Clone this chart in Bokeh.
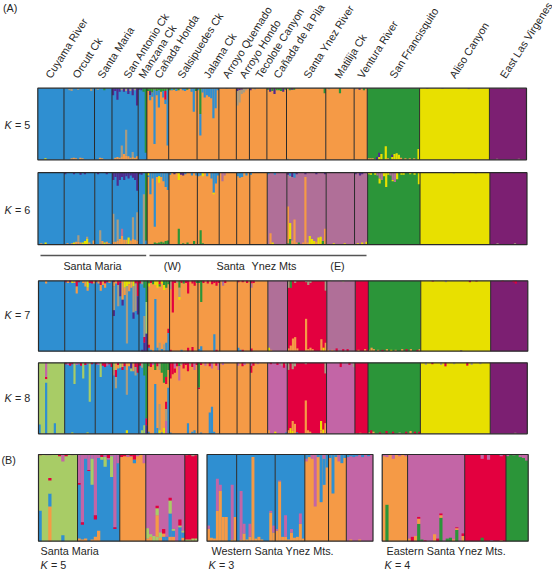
from bokeh.plotting import figure
from bokeh.models import Range1d, ColumnDataSource
from bokeh.core.properties import value
from bokeh.embed import file_html
from bokeh.resources import INLINE

COLORS = {"b": "#2F8FD1", "o": "#F59A46", "g": "#2B9539", "y": "#E8E000", "p": "#7C1F72",
          "m": "#B06F98", "k": "#C365A6", "r": "#E3003F", "l": "#A8CC66", "n": "#4F2B8E",
          "t": "#A89C82"}

POPULATIONS = ["Cuyama River", "Orcutt Ck", "Santa Maria", "San Antonio Ck", "Manzana Ck",
               "Cañada Honda", "Salsipuedes Ck", "Jalama Ck", "Arroyo Quemado", "Arroyo Hondo",
               "Tecolote Canyon", "Cañada de la Pila", "Santa Ynez River", "Matilija Ck",
               "Ventura River", "San Francisquito", "Aliso Canyon", "East Las Virgenes"]
POP_COUNTS = [12, 14, 8, 12, 4, 10, 13, 10, 8, 6, 8, 9, 18, 13, 6, 24, 32, 17]

# ---- K = 5 ----
K5_MAIN = ["b", "b", "b", "b", "b", "o", "o", "o", "o", "o", "o", "o", "o", "o", "o", "g", "y", "p"]
K5_SWAP = {49: "g"}
K5_LOW = {3: [("y", .02)], 15: [("o", .02)], 16: [("o", .03)], 17: [("o", .02)], 19: [("o", .03)], 20: [("o", .02)],
          28: [("o", .03)], 29: [("o", .02)], 35: [("o", .03)], 36: [("o", .04)], 37: [("o", .03)],
          38: [("o", .05), ("t", .2)], 39: [("o", .08)], 40: [("o", .06), ("t", .42)], 41: [("o", .05)],
          42: [("o", .03)], 43: [("o", .04), ("t", .11)], 44: [("o", .03)], 45: [("o", .05)],
          49: [("b", .1)], 114: [("t", .02)], 151: [("o", .02)], 152: [("o", .02)], 153: [("o", .02)],
          155: [("n", .04)], 156: [("y", .04), ("n", .1)], 157: [("y", .08)], 159: [("y", .19)], 160: [("o", .02)],
          162: [("y", .04), ("n", .07)], 163: [("y", .08)], 164: [("y", .09)], 165: [("y", .07)], 166: [("o", .03)],
          168: [("o", .02)], 170: [("o", .02)], 172: [("o", .02)], 174: [("y", .15)], 210: [("t", .015)], 220: [("t", .015)]}
K5_HIGH = {14: [("t", .03)], 15: [("t", .04)], 18: [("t", .02)], 24: [("t", .04)], 27: [("t", .02)], 30: [("g", .03)],
           34: [("n", .1)], 35: [("n", .04)], 36: [("n", .16)], 37: [("n", .05)], 38: [("t", .03)], 39: [("n", .05)],
           40: [("t", .04)], 41: [("n", .08)], 42: [("t", .04)], 43: [("n", .1)], 44: [("t", .03)], 45: [("n", .24)],
           46: [("n", .02)], 47: [("n", .03)], 48: [("g", .05)],
           50: [("g", .04)], 51: [("g", .04), ("n", .1), ("b", .17)], 52: [("g", .06), ("b", .12)], 53: [("g", .02), ("b", .78)],
           54: [("g", .04), ("b", .1)], 55: [("g", .03), ("b", .27)], 56: [("g", .05)], 57: [("g", .04), ("b", .13)],
           58: [("g", .04), ("r", .16), ("b", .22)], 59: [("g", .02), ("b", .8)],
           60: [("g", .03)], 61: [("b", .03)], 62: [("g", .02)], 63: [("b", .04)], 64: [("g", .03)], 66: [("b", .03)],
           67: [("b", .04)], 68: [("g", .02)], 70: [("b", .05)], 71: [("b", .33)], 72: [("g", .04)],
           73: [("b", .03)], 74: [("g", .36), ("b", .66)], 75: [("b", .06)], 76: [("b", .13)], 77: [("b", .1)],
           78: [("b", .12)], 79: [("b", .14)], 80: [("b", .42)], 81: [("b", .28)], 82: [("b", .03)],
           86: [("t", .01)], 91: [("n", .04), ("t", .24)], 92: [("n", .03), ("t", .2)], 93: [("n", .02), ("t", .08)],
           94: [("t", .06)], 95: [("t", .03)], 97: [("n", .03)], 99: [("t", .02)],
           105: [("g", .02)], 106: [("n", .05)], 107: [("g", .04)], 108: [("n", .08)], 109: [("g", .03)], 110: [("g", .03)],
           111: [("g", .04)], 112: [("n", .05)], 113: [("g", .02)], 115: [("g", .03)], 116: [("n", .02)], 117: [("g", .02)],
           131: [("g", .07)], 138: [("g", .07)], 133: [("t", .02)], 145: [("t", .02)], 147: [("n", .02)], 149: [("g", .03)],
           178: [("t", .01)], 185: [("t", .01)], 197: [("t", .015)], 215: [("t", .01)]}

# ---- K = 6 ----
K6_MAIN = ["b", "b", "b", "b", "b", "o", "o", "o", "o", "o", "o", "m", "m", "m", "m", "g", "y", "p"]
K6_SWAP = {49: "g"}
K6_LOW = {1: [("o", .02)], 3: [("y", .03)], 13: [("o", .02)], 15: [("o", .02)], 16: [("y", .03)], 17: [("o", .04)],
          18: [("o", .04), ("t", .13)], 19: [("o", .03)], 20: [("y", .03)], 21: [("y", .05)], 22: [("y", .08), ("t", .11)],
          23: [("o", .03)], 25: [("o", .06)], 28: [("t", .2)], 29: [("o", .05)], 30: [("y", .03)], 31: [("o", .04)], 32: [("o", .02)],
          34: [("o", .04), ("t", .43)], 35: [("o", .04)], 36: [("o", .06), ("t", .35)], 37: [("o", .08)], 38: [("o", .12), ("m", .22)],
          39: [("o", .07)], 40: [("o", .07)], 41: [("y", .1)], 42: [("o", .06)], 43: [("o", .08), ("t", .38)], 44: [("o", .07)],
          45: [("o", .06), ("t", .45)], 48: [("t", .7)], 49: [("b", .06)],
          51: [("g", .01)], 53: [("g", .03)], 54: [("g", .02)], 55: [("g", .03)], 56: [("g", .04)], 57: [("g", .03)], 58: [("g", .05)], 59: [("g", .06)],
          64: [("g", .22)], 66: [("g", .02)], 68: [("g", .03)], 71: [("g", .05)], 74: [("g", .2)], 75: [("g", .02)],
          106: [("o", .16)], 107: [("y", .03)], 114: [("g", .02), ("o", .53)], 115: [("g", .08), ("y", .3)], 116: [("o", .06)],
          117: [("o", .35)], 118: [("o", .03)], 119: [("g", .03)], 121: [("o", .03)], 122: [("o", .94)], 123: [("o", .03)],
          124: [("y", .12)], 125: [("y", .08)], 126: [("y", .05)], 127: [("o", .04)], 128: [("y", .1)], 129: [("y", .11)],
          130: [("g", .05)], 131: [("o", .22)], 135: [("y", .02)], 140: [("y", .02)], 146: [("y", .02)], 148: [("y", .03)],
          150: [("y", .04)], 210: [("t", .02)], 218: [("t", .02)]}
K6_HIGH = {12: [("n", .02)], 16: [("n", .02)], 19: [("n", .03)], 21: [("n", .02)], 27: [("n", .02)], 31: [("n", .02)],
           34: [("n", .1)], 35: [("n", .06)], 36: [("n", .18)], 37: [("n", .1)], 38: [("n", .06)], 39: [("n", .1)], 40: [("n", .05)],
           41: [("n", .08)], 42: [("n", .04)], 43: [("n", .07)], 44: [("n", .1)], 45: [("n", .25)], 46: [("n", .02)], 47: [("n", .03)],
           48: [("b", .18)], 50: [("y", .04), ("b", .06)], 51: [("b", .3)], 52: [("b", .08)], 53: [("b", .75)], 54: [("b", .06)],
           55: [("b", .05), ("y", .14)], 56: [("b", .06)], 57: [("b", .12)], 58: [("b", .2)], 59: [("b", .24)],
           60: [("b", .03)], 62: [("n", .02)], 64: [("y", .1)], 65: [("n", .03)], 66: [("n", .04)], 67: [("b", .02)], 70: [("b", .04)], 72: [("b", .04)],
           73: [("b", .05)], 74: [("b", .04)], 75: [("y", .05)], 77: [("b", .05)], 79: [("b", .08)], 80: [("b", .28), ("y", .3)], 81: [("b", .15)],
           82: [("b", .04)], 84: [("m", .12)], 85: [("m", .04)], 91: [("b", .05)], 92: [("b", .07)], 93: [("b", .06)], 95: [("b", .04)], 97: [("b", .03)],
           105: [("b", .02)], 108: [("b", .03)], 114: [("n", .03)], 115: [("b", .05), ("t", .07)], 116: [("n", .06)], 117: [("b", .07)], 118: [("n", .02)],
           122: [("n", .02)], 127: [("n", .02)], 131: [("n", .02)], 145: [("n", .02)], 147: [("n", .04)], 148: [("n", .02)],
           151: [("y", .02)], 152: [("y", .03)], 154: [("y", .03)], 155: [("m", .04)], 156: [("m", .08), ("y", .15)], 157: [("m", .1)],
           158: [("y", .05)], 159: [("y", .2)], 160: [("y", .03)], 161: [("m", .04)], 162: [("m", .1), ("y", .12)], 163: [("m", .13)], 164: [("y", .09)],
           166: [("y", .03)], 167: [("y", .03)], 170: [("y", .02)], 172: [("y", .03)], 174: [("y", .16)], 200: [("t", .01)], 190: [("t", .01)]}

# ---- K = 7 ----
K7_MAIN = ["b", "b", "b", "b", "b", "o", "o", "o", "o", "o", "o", "m", "r", "m", "r", "g", "y", "p"]
K7_SWAP = {49: "g"}
K7_LOW = {47: [("n", .02)], 48: [("n", .12), ("r", .2), ("t", .5)], 49: [("n", .25), ("l", .7)],
          50: [("b", .05), ("r", .09)], 51: [("b", .02)], 53: [("b", .74)], 54: [("b", .05)], 55: [("t", .12)], 56: [("b", .03)], 57: [("t", .1)],
          58: [("b", .12)], 59: [("b", .26), ("r", .32)], 60: [("r", .02)], 65: [("b", .02)], 68: [("r", .05)], 70: [("r", .06)],
          73: [("b", .03)], 74: [("b", .07)], 80: [("b", .24)], 81: [("r", .02)], 91: [("b", .05)], 92: [("b", .02)], 93: [("r", .02)], 97: [("r", .04)],
          105: [("y", .05)], 106: [("o", .02)], 114: [("o", .04)], 115: [("o", .08)], 116: [("o", .18)], 117: [("o", .2)], 118: [("o", .04)],
          122: [("o", .46)], 123: [("o", .03)], 124: [("o", .05)], 125: [("o", .03)], 129: [("o", .17)], 130: [("y", .05)], 131: [("o", .12)],
          132: [("o", .02)], 134: [("o", .02)], 136: [("r", .04)], 139: [("r", .03)], 141: [("r", .03)], 146: [("o", .02)], 149: [("o", .03)],
          151: [("o", .02)], 152: [("o", .05)], 153: [("o", .03)], 155: [("o", .02)], 157: [("r", .02)], 159: [("o", .03)], 161: [("y", .02)],
          163: [("o", .02)], 166: [("o", .03)], 168: [("r", .03)], 170: [("o", .03)], 173: [("r", .02)], 174: [("o", .03)], 193: [("n", .01)]}
K7_HIGH = {3: [("o", .04)], 12: [("r", .02)], 13: [("o", .03)], 14: [("r", .02)], 15: [("y", .03)], 16: [("o", .03)], 17: [("r", .08), ("o", .18)],
           18: [("r", .02)], 20: [("o", .03)], 21: [("o", .08)], 22: [("y", .1), ("o", .14)], 23: [("r", .03)], 24: [("r", .04)], 25: [("o", .04)],
           26: [("r", .02)], 27: [("o", .04)], 28: [("r", .06), ("o", .14)], 29: [("o", .06)], 30: [("r", .04), ("o", .1)], 31: [("r", .02)], 32: [("o", .03)],
           34: [("r", .02), ("o", .08), ("t", .42), ("n", .5)], 35: [("o", .04)], 36: [("r", .06), ("t", .36)], 37: [("r", .03), ("n", .22)],
           38: [("o", .27), ("n", .35)], 39: [("y", .1), ("o", .2)], 40: [("y", .08), ("t", .89)], 41: [("y", .05), ("o", .15)], 42: [("o", .1)],
           43: [("y", .08), ("t", .45), ("n", .54)], 44: [("r", .04), ("t", .43)], 45: [("r", .22), ("n", .48)], 46: [("r", .04)], 47: [("t", .05)],
           48: [("g", .1)], 50: [("g", .04), ("y", .08)], 51: [("r", .03)], 52: [("g", .05)], 53: [("y", .06)], 54: [("y", .1)], 55: [("r", .05), ("g", .08)],
           56: [("y", .04)], 57: [("g", .06), ("y", .13)], 58: [("g", .1)], 59: [("g", .05)],
           60: [("t", .12)], 61: [("r", .45)], 62: [("r", .03)], 63: [("t", .03)], 64: [("g", .1), ("t", .23), ("y", .27)], 65: [("r", .03)],
           66: [("g", .04)], 67: [("r", .03)], 68: [("r", .18)], 70: [("r", .04)], 71: [("r", .07)], 72: [("g", .03)], 73: [("g", .03)],
           74: [("g", .3)], 75: [("r", .03)], 77: [("r", .04)], 79: [("r", .05)], 80: [("r", .03)], 81: [("r", .07)], 82: [("r", .03)], 84: [("m", .07)],
           85: [("r", .03)], 91: [("r", .02)], 93: [("r", .02)], 95: [("r", .03)], 97: [("r", .04), ("m", .1)], 98: [("r", .03)],
           114: [("t", .1)], 115: [("g", .1)], 116: [("r", .02)], 117: [("t", .03)], 122: [("t", .02)], 123: [("t", .06)], 124: [("t", .03)],
           131: [("t", .14)], 133: [("t", .01)], 139: [("t", .02)], 180: [("r", .01)], 186: [("t", .02)], 197: [("r", .02)], 200: [("r", .01)],
           212: [("r", .01)], 217: [("r", .02)], 218: [("r", .04)]}

# ---- K = 8 ----
K8_MAIN = ["l", "b", "b", "b", "b", "o", "o", "o", "o", "o", "o", "k", "r", "k", "r", "g", "y", "p"]
K8_SWAP = {49: "g"}
K8_LOW = {0: [("b", .13)], 3: [("b", .72)], 7: [("b", .15)], 15: [("y", .02)], 22: [("y", .02)], 40: [("y", .05)],
          47: [("l", .05)], 48: [("l", .12)], 49: [("n", .12), ("r", .22)], 50: [("b", .03)], 51: [("o", .02)], 53: [("b", .7)], 54: [("b", .08)], 55: [("y", .05), ("t", .42)],
          56: [("b", .02)], 57: [("y", .08)], 58: [("k", .18), ("t", .35), ("r", .45)], 59: [("b", .65)], 60: [("b", .02)], 68: [("b", .15)], 70: [("b", .03)],
          71: [("b", .05)], 74: [("b", .02)], 78: [("b", .3)], 79: [("b", .38)], 80: [("b", .03)], 105: [("o", .05)], 108: [("y", .03)], 113: [("b", .02)],
          114: [("o", .05)], 115: [("y", .08)], 116: [("y", .04), ("o", .18)], 117: [("o", .14)], 118: [("b", .02)], 122: [("o", .47)], 123: [("o", .05)],
          124: [("o", .03)], 129: [("o", .05), ("y", .18)], 130: [("y", .06)], 131: [("o", .15)], 145: [("o", .01)], 147: [("o", .015)],
          151: [("o", .02)], 152: [("r", .05)], 153: [("o", .03)], 156: [("r", .02)], 159: [("r", .04)], 162: [("r", .03)], 165: [("t", .02)],
          168: [("r", .03)], 170: [("o", .04)], 172: [("r", .03)], 174: [("r", .03)], 218: [("t", .015)]}
K8_HIGH = {3: [("k", .2), ("r", .23), ("l", .25)], 12: [("r", .02)], 13: [("k", .03)], 14: [("r", .04)], 15: [("r", .02)],
           16: [("l", .3)], 17: [("k", .03)], 18: [("k", .02)], 19: [("r", .04)], 20: [("l", .22)], 21: [("r", .03)], 22: [("k", .02)], 23: [("l", .55)], 24: [("r", .02)],
           26: [("r", .02)], 27: [("k", .03)], 28: [("l", .2)], 29: [("r", .04)], 30: [("r", .06)], 31: [("k", .04)], 32: [("r", .02)], 33: [("r", .06)],
           34: [("l", .1), ("t", .18)], 35: [("o", .1), ("r", .2), ("t", .36)], 36: [("r", .03), ("o", .08)], 37: [("l", .07)], 38: [("o", .06), ("r", .1)],
           39: [("r", .05)], 40: [("o", .1), ("t", .45)], 41: [("o", .05)], 42: [("n", .08), ("l", .12)], 43: [("o", .12)], 44: [("r", .06), ("t", .18)], 45: [("r", .14)],
           46: [("r", .04)], 47: [("t", .07)], 48: [("g", .18)], 50: [("g", .05)], 51: [("r", .06)], 52: [("k", .03)], 53: [("g", .1)], 54: [("r", .05)], 55: [("t", .1)],
           56: [("g", .14)], 57: [("g", .28)], 58: [("g", .2), ("r", .3)], 59: [("g", .1)],
           60: [("r", .22)], 61: [("r", .16)], 62: [("k", .08), ("r", .14)], 63: [("r", .05)], 64: [("g", .05), ("k", .25)], 65: [("t", .03)], 66: [("r", .08)],
           67: [("r", .03)], 68: [("r", .12)], 69: [("t", .04)], 70: [("r", .06)], 71: [("k", .1)], 72: [("r", .03)], 73: [("g", .35), ("r", .37)], 74: [("r", .03)],
           76: [("k", .04)], 78: [("r", .05)], 79: [("k", .08)], 81: [("r", .04)], 82: [("k", .1)], 84: [("k", .03)], 91: [("k", .04)], 93: [("r", .05)], 94: [("k", .03)],
           97: [("k", .04), ("r", .14)], 98: [("r", .04)], 100: [("k", .02)], 106: [("r", .02)], 109: [("r", .03)], 111: [("t", .04)], 112: [("r", .07)], 113: [("t", .03)],
           114: [("t", .1)], 115: [("r", .02)], 116: [("t", .09)], 117: [("t", .05)], 122: [("t", .02)], 131: [("t", .15)], 138: [("r", .06)], 142: [("r", .03)], 144: [("t", .06)],
           177: [("t", .03)], 180: [("r", .02)], 184: [("t", .03)], 186: [("r", .05)], 190: [("t", .02)], 196: [("r", .04)], 198: [("t", .03)], 202: [("t", .02)]}

# ---- Santa Maria, K = 5 ----
B1_COUNTS = [12, 13, 8, 12, 4]
B1_MAIN = ["l", "b", "o", "k", "r"]
B1_SWAP = {}
B1_LOW = {0: [("b", .35)], 3: [("o", .4), ("b", .55), ("l", .7), ("r", .73)], 7: [("b", .07)], 12: [("o", .03)], 13: [("o", .02)], 14: [("o", .03)], 16: [("o", .02)],
          17: [("o", .05)], 18: [("o", .12)], 33: [("o", .03), ("l", .15)], 34: [("o", .05), ("l", .08)], 35: [("l", .06)], 36: [("l", .05), ("o", .3), ("l", .38), ("r", .41)],
          37: [("o", .04), ("l", .1)], 38: [("b", .05), ("o", .09), ("r", .14)], 39: [("b", .05)], 40: [("o", .05), ("b", .32), ("l", .47), ("r", .5)],
          41: [("o", .05), ("b", .12), ("l", .14)], 43: [("b", .16), ("l", .18), ("r", .25)], 44: [("o", .04), ("b", .1), ("l", .12)], 45: [("l", .02)], 46: [("l", .02)], 47: [("l", .03)], 48: [("l", .03)]}
B1_HIGH = {0: [("r", .01)], 2: [("k", .01)], 3: [("k", .01)], 6: [("r", .02)], 7: [("k", .08)], 8: [("r", .02)], 10: [("k", .01)],
           12: [("k", .33), ("r", .35)], 13: [("k", .78), ("r", .81)], 14: [("k", .05)], 15: [("k", .18), ("r", .19)], 16: [("k", .05), ("l", .35)], 17: [("k", .7), ("r", .75)],
           18: [("k", .04)], 19: [("r", .03), ("l", .06)], 20: [("k", .03), ("l", .14)], 21: [("r", .04), ("k", .06)], 22: [("k", .02), ("l", .26)], 23: [("k", .84), ("r", .86)], 24: [("k", .1)],
           25: [("r", .03)], 26: [("r", .02)], 27: [("k", .03)], 28: [("r", .02), ("k", .03)], 29: [("r", .06), ("b", .1)], 30: [("k", .02)], 32: [("k", .1)],
           45: [("t", .01)], 47: [("t", .02)], 48: [("t", .01)]}

# ---- Western Santa Ynez Mts., K = 3 ----
B2_COUNTS = [10, 13, 10, 8, 6, 9]
B2_MAIN = ["b", "b", "b", "o", "o", "k"]
B2_SWAP = {}
B2_LOW = {0: [("o", .14), ("k", .18)], 1: [("o", .04)], 2: [("o", .03)], 3: [("o", .35), ("k", .72)], 4: [("o", .58), ("k", .65)], 5: [("o", .28)], 6: [("o", .28)],
          8: [("o", .02), ("k", .65)], 9: [("o", .28)], 11: [("o", .02), ("k", .58)], 12: [("o", .09), ("k", .2)], 13: [("o", .02)], 14: [("o", .05), ("k", .2)], 15: [("o", .97)],
          16: [("o", .03)], 17: [("o", .05)], 18: [("o", .02)], 21: [("o", .33), ("k", .35)], 22: [("o", .1), ("k", .18)],
          23: [("o", .12), ("k", .14)], 24: [("o", .69), ("k", .7)], 25: [("o", .05)], 26: [("o", .05), ("k", .3)], 27: [("o", .02)], 28: [("o", .1), ("k", .14)],
          29: [("o", .04)], 30: [("o", .05)], 31: [("o", .2), ("k", .32)], 32: [("o", .03)], 48: [("o", .02)], 51: [("o", .02)]}
B2_HIGH = {33: [("b", .05), ("k", .08)], 34: [("b", .03)], 35: [("k", .05)], 36: [("k", .6)], 37: [("b", .03)], 38: [("b", .55)], 39: [("k", .05), ("b", .35)], 40: [("b", .15)],
           41: [("b", .04)], 42: [("b", .45)], 43: [("b", .03)], 44: [("k", .08)], 45: [("b", .1)], 46: [("b", .04)],
           47: [("b", .03)], 48: [("b", .02)], 49: [("b", .03)], 50: [("b", .02)], 52: [("b", .03)], 54: [("b", .02)]}

# ---- Eastern Santa Ynez Mts., K = 4 ----
B3_COUNTS = [8, 18, 13, 7]
B3_MAIN = ["o", "k", "r", "g"]
B3_SWAP = {}
B3_LOW = {1: [("g", .42)], 8: [("o", .03)], 9: [("r", .05)], 10: [("o", .06)], 11: [("g", .2), ("o", .26), ("r", .28)], 12: [("g", .02)], 13: [("r", .01)],
          16: [("o", .08)], 17: [("r", .03)], 18: [("g", .27), ("o", .3), ("r", .32)], 20: [("g", .03)], 21: [("g", .04)], 22: [("o", .02)], 23: [("g", .13), ("o", .15), ("r", .16)],
          25: [("o", .06), ("r", .09)], 31: [("g", .04)], 34: [("k", .01)], 37: [("o", .01)]}
B3_HIGH = {0: [("k", .02)], 1: [("k", .03)], 3: [("k", .05)], 5: [("k", .02)], 7: [("k", .02)], 31: [("k", .05)], 33: [("k", .06)], 37: [("k", .02)],
           39: [("k", .02)], 41: [("k", .01)], 43: [("k", .03)], 44: [("k", .04)], 45: [("k", .07)]}

# ---- layout (page pixels) ----
W, H = 552, 570
INK = "#2A2A2A"
TEXT = "#262626"

p = figure(width=W, height=H, x_range=Range1d(0, W), y_range=Range1d(H, 0), toolbar_location=None,
           output_backend="svg", min_border=0, outline_line_color=None, background_fill_color="white",
           styles={"position": "absolute", "left": "0px", "top": "0px"})
p.axis.visible = False
p.grid.visible = False


def panel(name, box, counts, main, swap, low, high):
    x0, x1, y0, y1 = box
    n = sum(counts)
    ux = n / (x1 - x0)
    uy = 1 / (y1 - y0)
    p.extra_x_ranges[name] = Range1d(-x0 * ux, n + (W - x1) * ux)
    p.extra_y_ranges[name] = Range1d(-(H - y1) * uy, 1 + y0 * uy)
    xs, bots, tops, fills = [], [], [], []

    def add(i, a, b, c):
        if b > a:
            xs.append(i + .5); bots.append(a); tops.append(b); fills.append(COLORS[c])

    i = 0
    seps = [0]
    for c, m in zip(counts, main):
        for _ in range(c):
            lo = 0.0
            for cl, lev in low.get(i, []):
                add(i, lo, lev, cl)
                lo = lev
            hi = 1.0
            for cl, dep in high.get(i, []):
                add(i, 1 - dep, hi, cl)
                hi = 1 - dep
            if i in swap:
                add(i, lo, hi, swap[i])
            i += 1
        seps.append(i)
    # the main cluster of each population lies under its individuals, so that no seams show
    p.quad(left=seps[:-1], right=seps[1:], bottom=[0] * len(main), top=[1] * len(main),
           fill_color=[COLORS[m] for m in main], line_color=None, x_range_name=name, y_range_name=name)
    p.vbar(x="x", bottom="b", top="t", width=1.0, fill_color="c", line_color=None,
           source=ColumnDataSource(dict(x=xs, b=bots, t=tops, c=fills)),
           x_range_name=name, y_range_name=name)
    inner = seps[1:-1]
    p.segment(x0=inner, x1=inner, y0=[0] * len(inner), y1=[1] * len(inner),
              line_color=INK, line_width=1.0, x_range_name=name, y_range_name=name)
    p.quad(left=[0], right=[n], bottom=[0], top=[1], fill_color=None, line_color=INK, line_width=1.2,
           x_range_name=name, y_range_name=name)


panel("k5", (37.3, 526, 87.7, 159.3), POP_COUNTS, K5_MAIN, K5_SWAP, K5_LOW, K5_HIGH)
panel("k6", (37.5, 526.5, 172.2, 244.2), POP_COUNTS, K6_MAIN, K6_SWAP, K6_LOW, K6_HIGH)
panel("k7", (38, 527.3, 280.3, 350.7), POP_COUNTS, K7_MAIN, K7_SWAP, K7_LOW, K7_HIGH)
panel("k8", (38, 526.8, 362.3, 433.3), POP_COUNTS, K8_MAIN, K8_SWAP, K8_LOW, K8_HIGH)
panel("b1", (38, 197.3, 454, 540.7), B1_COUNTS, B1_MAIN, B1_SWAP, B1_LOW, B1_HIGH)
panel("b2", (206.5, 372.5, 454, 540.7), B2_COUNTS, B2_MAIN, B2_SWAP, B2_LOW, B2_HIGH)
panel("b3", (381.7, 527.7, 454, 540.7), B3_COUNTS, B3_MAIN, B3_SWAP, B3_LOW, B3_HIGH)

FONT = value("Liberation Sans")
SIZE = "10.8px"


def label(x, y, s, style="normal", align="left", baseline="middle", angle=0):
    p.text(x=[x], y=[y], text=[s], text_font=FONT, text_font_size=value(SIZE), text_font_style=value(style),
           text_color=TEXT, text_align=align, text_baseline=baseline, angle=angle, angle_units="deg")


LABEL_X = [47.5, 74.5, 99.5, 125.5, 140.5, 156.5, 179.5, 205.5, 224.5, 241.5, 257.5, 275.5, 305.5, 336.5, 359.5, 391.5, 451.5, 502]
for lx, s in zip(LABEL_X, POPULATIONS):
    label(lx, 76.5, s, baseline="alphabetic", angle=57.5)


def k_label(x, y, n):
    label(x, y, "K", style="italic")
    label(x + 10.5, y, f"= {n}")


k_label(4, 124, 5)
k_label(4, 209, 6)
k_label(4, 314, 7)
k_label(4, 397, 8)
k_label(40, 564, 5)
k_label(208, 564, 3)
k_label(384, 564, 4)

label(2.5, 7, "(A)")
label(1, 459, "(B)")

p.segment(x0=[40, 149], x1=[145.7, 366], y0=[255, 255], y1=[255, 255], line_color="#555555", line_width=1.3)
label(92, 265, "Santa Maria", align="center")
label(172, 265, "(W)", align="center")
label(216, 265, "Santa")
label(251, 265, "Ynez Mts")
label(337, 265, "(E)", align="center")

label(40, 550, "Santa Maria")
label(211, 550, "Western Santa Ynez Mts.")
label(386, 550, "Eastern Santa Ynez Mts.")

open("out.html", "w").write(file_html(p, INLINE))
